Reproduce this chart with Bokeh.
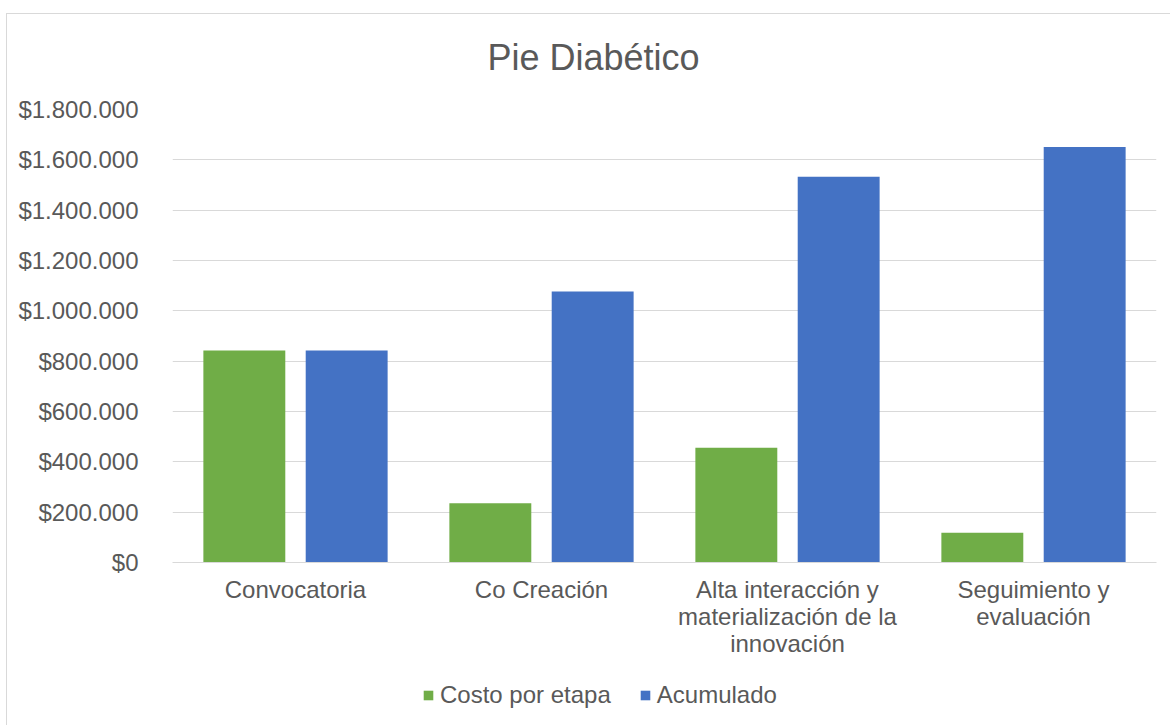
from bokeh.plotting import figure
from bokeh.models import ColumnDataSource, FactorRange, FixedTicker, CustomJSTickFormatter, Legend, LegendItem, Range1d, Label
from bokeh.layouts import column
from bokeh.transform import dodge
from bokeh.embed import file_html
from bokeh.resources import INLINE

title_text = "Pie Diabético"
categories = ["Convocatoria", "Co Creación", "Alta interacción y\nmaterialización de la\ninnovación", "Seguimiento y\nevaluación"]
costo_por_etapa = [842000, 235000, 456000, 118000]
acumulado = [842000, 1077000, 1533000, 1651000]
y_ticks = [0, 200000, 400000, 600000, 800000, 1000000, 1200000, 1400000, 1600000, 1800000]
series_names = ["Costo por etapa", "Acumulado"]
series_colors = ["#70ad47", "#4472c4"]

FONT = "Liberation Sans"
TXT = "#595959"
GRID = "#d9d9d9"

source = ColumnDataSource(dict(cat=categories, costo=costo_por_etapa, acum=acumulado))


def strip(height):
    f = figure(x_range=Range1d(0, 1), y_range=Range1d(0, 1), width=1164, height=height,
               output_backend="svg", toolbar_location=None,
               min_border_left=165, min_border_right=15, min_border_top=0, min_border_bottom=0)
    f.axis.visible = False
    f.grid.visible = False
    f.outline_line_color = None
    return f


# title strip
tt = strip(75)
tt.add_layout(Label(x=315, y=32, x_units="screen", y_units="screen", text=title_text,
                    text_font=FONT, text_font_size="36px", text_color=TXT,
                    text_align="left", text_baseline="middle"))

# main chart
p = figure(x_range=FactorRange(*categories), y_range=Range1d(0, 1800000),
           width=1164, height=585, output_backend="svg", toolbar_location=None,
           min_border_left=165, min_border_right=15, min_border_top=20, min_border_bottom=112)

r1 = p.vbar(x=dodge("cat", -0.208, range=p.x_range), top="costo", width=0.333, source=source,
            fill_color=series_colors[0], line_color=None)
r2 = p.vbar(x=dodge("cat", 0.208, range=p.x_range), top="acum", width=0.333, source=source,
            fill_color=series_colors[1], line_color=None)

p.outline_line_color = None
p.xgrid.grid_line_color = None
p.ygrid.grid_line_color = GRID
p.ygrid.grid_line_width = 1

p.yaxis.ticker = FixedTicker(ticks=y_ticks)
p.yaxis.formatter = CustomJSTickFormatter(code="""
return '$' + Math.round(tick).toString().replace(/\\B(?=(\\d{3})+(?!\\d))/g, '.');
""")
p.yaxis.axis_line_color = None
p.yaxis.major_tick_line_color = None
p.yaxis.minor_tick_line_color = None
p.yaxis.major_label_standoff = 28
p.yaxis.major_label_text_font = FONT
p.yaxis.major_label_text_font_size = "24px"
p.yaxis.major_label_text_color = TXT

p.xaxis.axis_line_color = GRID
p.xaxis.major_tick_line_color = None
p.xaxis.minor_tick_line_color = None
p.xaxis.major_label_standoff = 7
p.xaxis.major_label_text_font = FONT
p.xaxis.major_label_text_font_size = "24px"
p.xaxis.major_label_text_color = TXT
p.xaxis.major_label_text_line_height = 1.0

# legend strip below the chart (zero-width bars: only their legend swatches show)
lg = strip(51)
lg_src = ColumnDataSource(dict(x=[0.5], top=[0.0]))
d1 = lg.vbar(x="x", top="top", width=0, source=lg_src, fill_color=series_colors[0], line_color=None)
d2 = lg.vbar(x="x", top="top", width=0, source=lg_src, fill_color=series_colors[1], line_color=None)
legend = Legend(items=[LegendItem(label=series_names[0], renderers=[d1]),
                       LegendItem(label=series_names[1], renderers=[d2])],
                orientation="horizontal", location=(250, 16),
                glyph_width=12, glyph_height=12, label_standoff=6, spacing=28,
                padding=0, margin=0, border_line_color=None, background_fill_alpha=0,
                label_text_font=FONT, label_text_font_size="24px", label_text_color=TXT)
lg.add_layout(legend, "center")

layout = column(tt, p, lg, spacing=0)
layout.styles = {"margin-left": "6px", "margin-top": "13px",
                 "border-left": "1px solid #d9d9d9", "border-top": "1px solid #d9d9d9"}

open("out.html", "w").write(file_html(layout, INLINE))
